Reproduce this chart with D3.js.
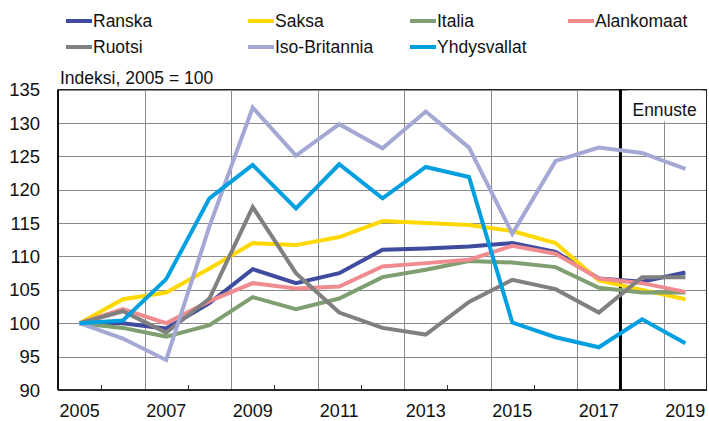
<!DOCTYPE html>
<html>
<head>
<meta charset="utf-8">
<script src="https://cdn.jsdelivr.net/npm/d3@7"></script>
<style>
html,body{margin:0;padding:0;background:#fff;}
svg{display:block;font-family:"Liberation Sans",Arial,sans-serif;}
</style>
</head>
<body>
<svg id="chart" width="709" height="421"></svg>
<script>
const years = [2005,2006,2007,2008,2009,2010,2011,2012,2013,2014,2015,2016,2017,2018,2019];
const seriesNames = ["Ranska","Saksa","Italia","Alankomaat","Ruotsi","Iso-Britannia","Yhdysvallat"];
const seriesColors = ["#3e4b9e","#ffd800","#7f9f70","#f08c90","#808080","#a4a8d4","#00a0e0"];
const ranska      = [100,100.0,99.2,103.0,108.1,106.0,107.5,111.0,111.2,111.5,112.0,110.7,106.7,106.2,107.6];
const saksa       = [100,103.6,104.6,108.2,112.0,111.7,112.9,115.3,115.0,114.7,113.8,112.0,106.4,105.0,103.6];
const italia      = [100,99.3,98.0,99.7,103.9,102.1,103.7,106.9,108.0,109.3,109.1,108.4,105.3,104.6,104.6];
const alankomaat  = [100,102.1,100.0,103.3,106.0,105.2,105.5,108.5,109.0,109.5,111.6,110.4,106.7,106.0,104.7];
const ruotsi      = [100,101.8,98.6,103.7,117.4,107.5,101.6,99.3,98.3,103.2,106.5,105.1,101.6,106.9,106.9];
const isoBritannia= [100,97.7,94.5,114.5,132.3,125.1,129.8,126.2,131.7,126.3,113.4,124.3,126.3,125.5,123.1];
const yhdysvallat = [100,100.4,106.6,118.7,123.7,117.2,123.8,118.7,123.4,121.9,100.1,97.9,96.4,100.6,97.0];
const seriesValues = [ranska,saksa,italia,alankomaat,ruotsi,isoBritannia,yhdysvallat];
const yTicks = [90,95,100,105,110,115,120,125,130,135];
const xTickLabels = [2005,2007,2009,2011,2013,2015,2017,2019];
const forecastStart = 2018;
const yLabel = "Indeksi, 2005 = 100";
const forecastLabel = "Ennuste";

const svg = d3.select("#chart");
const L = 58, R = 707, T = 89.5, B = 390;
const x = d3.scaleBand().domain(years).range([L, R]).padding(0);
const y = d3.scaleLinear().domain([90,135]).range([B, T]);
const cx = d => x(d) + x.bandwidth()/2;

// horizontal grid
svg.append("g").selectAll("line").data(yTicks).join("line")
  .attr("x1", L).attr("x2", R)
  .attr("y1", d => Math.round(y(d))+0.5).attr("y2", d => Math.round(y(d))+0.5)
  .attr("stroke", "#8a8a8a").attr("stroke-width", 1);

// vertical grid at every second band boundary, small ticks at every boundary
const bounds = years.slice(1).map(d => x(d));
svg.append("g").selectAll("line").data(bounds).join("line")
  .attr("x1", d => Math.round(d)+0.5).attr("x2", d => Math.round(d)+0.5)
  .attr("y1", (d,i) => (i % 2 === 1) ? T : B - 5).attr("y2", B)
  .attr("stroke", (d,i) => (i % 2 === 1) ? "#8a8a8a" : "#333").attr("stroke-width", 1);

// frame
svg.append("rect").attr("x", L+0.5).attr("y", T).attr("width", R-L-1).attr("height", B-T)
  .attr("fill", "none").attr("stroke", "#222").attr("stroke-width", 1);
svg.append("line").attr("x1", L).attr("x2", L).attr("y1", T).attr("y2", B).attr("stroke", "#111").attr("stroke-width", 2);
svg.append("line").attr("x1", L).attr("x2", R).attr("y1", B).attr("y2", B).attr("stroke", "#111").attr("stroke-width", 1.5);

// y labels
svg.append("g").selectAll("text").data(yTicks).join("text")
  .attr("x", 40).attr("y", d => y(d)).attr("dy", "0.36em")
  .attr("text-anchor", "end").attr("font-size", 18.5).attr("fill", "#111")
  .text(d => d);

// x labels
svg.append("g").selectAll("text").data(xTickLabels).join("text")
  .attr("x", d => cx(d)).attr("y", 416.5)
  .attr("text-anchor", "middle").attr("font-size", 18).attr("fill", "#111")
  .text(d => d);

// forecast line & label
const fx = x(forecastStart);
svg.append("rect").attr("x", fx+7).attr("y", T+1).attr("width", 75).attr("height", 31).attr("fill", "#fff");
svg.append("text").attr("x", fx+12).attr("y", 115.5).attr("font-size", 17.5).attr("fill", "#111").text(forecastLabel);
svg.append("line").attr("x1", fx).attr("x2", fx).attr("y1", T).attr("y2", B).attr("stroke", "#000").attr("stroke-width", 3);

// lines
const line = d3.line().x((d,i) => cx(years[i])).y(d => y(d));
svg.append("g").selectAll("path").data(seriesValues).join("path")
  .attr("d", d => line(d)).attr("fill", "none")
  .attr("stroke", (d,i) => seriesColors[i]).attr("stroke-width", 4)
  .attr("stroke-linejoin", "miter").attr("stroke-miterlimit", 3);

// y-axis caption
svg.append("text").attr("x", 60).attr("y", 84).attr("font-size", 17.5).attr("fill", "#111").text(yLabel);

// legend
const legCols = [66, 248, 410, 568];
const legRows = [21, 47];
const leg = svg.append("g").selectAll("g").data(seriesNames).join("g")
  .attr("transform", (d,i) => `translate(${legCols[i % 4]},${legRows[Math.floor(i/4)]})`);
leg.append("line").attr("x1", 0).attr("x2", 26).attr("y1", 0).attr("y2", 0)
  .attr("stroke", (d,i) => seriesColors[i]).attr("stroke-width", 4);
leg.append("text").attr("x", 27).attr("y", 0).attr("dy", "0.36em")
  .attr("font-size", 17.5).attr("fill", "#111").text(d => d);
</script>
</body>
</html>
